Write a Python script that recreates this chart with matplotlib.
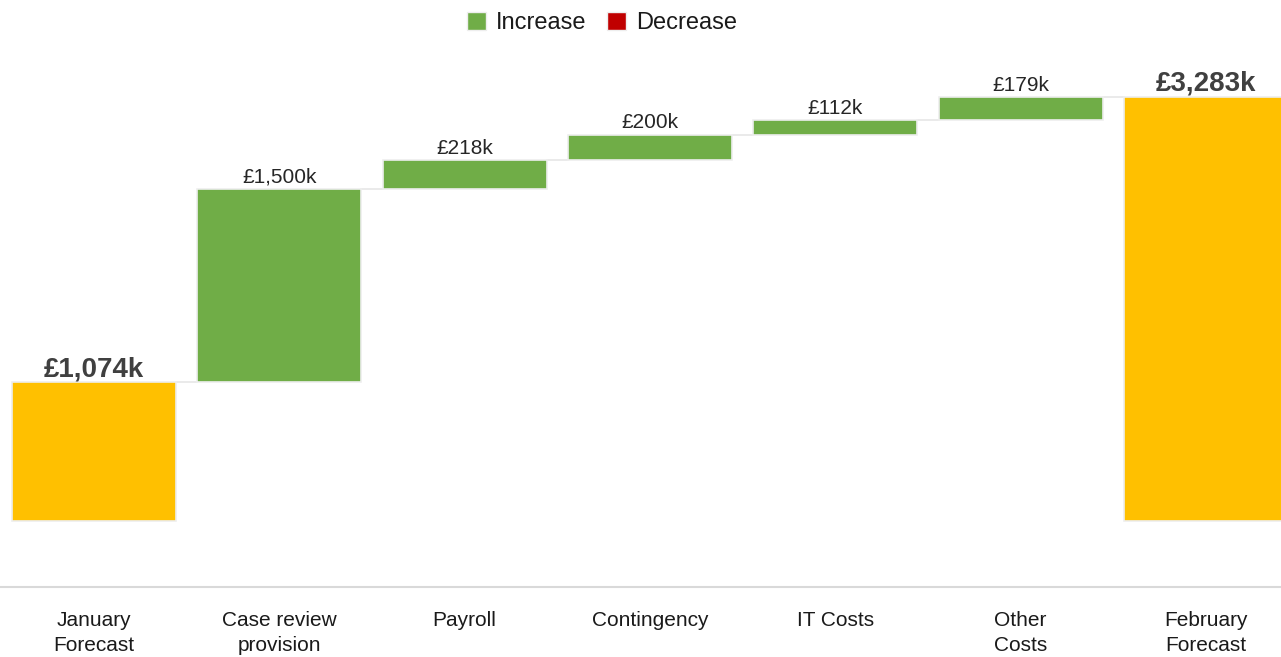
import matplotlib
matplotlib.use("Agg")
import matplotlib.pyplot as plt
from matplotlib.patches import Patch
import numpy as np

plt.rcParams['font.family'] = ['Liberation Sans', 'DejaVu Sans']

categories = ["January\nForecast", "Case review\nprovision", "Payroll", "Contingency",
              "IT Costs", "Other\nCosts", "February\nForecast"]
values = [1074, 1500, 218, 200, 112, 179, 3283]
kinds = ["total", "inc", "inc", "inc", "inc", "inc", "total"]
labels = ["£1,074k", "£1,500k", "£218k", "£200k", "£112k", "£179k", "£3,283k"]

YELLOW = "#FFC000"
GREEN = "#70AD47"
RED = "#C00000"

fig = plt.figure(figsize=(12.81, 6.57), dpi=100)
ax = fig.add_axes([0, (657 - 587) / 657, 1, (587 - 60) / 657])

x = np.arange(len(categories))
width = 0.885
bottoms = []
running = 0
for v, k in zip(values, kinds):
    if k == "total":
        bottoms.append(0)
        running = v
    elif k == "inc":
        bottoms.append(running)
        running += v
    else:
        running -= v
        bottoms.append(running)

colors = [YELLOW if k == "total" else (GREEN if k == "inc" else RED) for k in kinds]
ax.bar(x, values, width=width, bottom=bottoms, color=colors,
       edgecolor="#EEEEEE", linewidth=1.2, zorder=2)

# connectors
for i in range(len(values) - 1):
    level = bottoms[i] + values[i]
    ax.plot([x[i] + width / 2, x[i + 1] - width / 2], [level, level],
            color="#E6E6E6", linewidth=1.2, zorder=1)

for i, (v, b, k, lab) in enumerate(zip(values, bottoms, kinds, labels)):
    top = b + v
    if k == "total":
        ax.annotate(lab, (x[i], top), xytext=(0, 0), textcoords="offset points",
                    ha="center", va="bottom", fontsize=20, fontweight="bold",
                    color="#404040")
    else:
        ax.annotate(lab, (x[i], top), xytext=(0, 1.5), textcoords="offset points",
                    ha="center", va="bottom", fontsize=15, color="#262626")

ax.set_xlim(-0.507, 6.405)
ax.set_ylim(-511, 3569)
ax.set_xticks(x)
ax.set_xticklabels(categories, fontsize=15, color="#1a1a1a", linespacing=1.42)
ax.tick_params(axis='x', length=0, pad=17)
ax.set_yticks([])
for s in ["top", "left", "right"]:
    ax.spines[s].set_visible(False)
ax.spines["bottom"].set_color("#D9D9D9")
ax.spines["bottom"].set_linewidth(1.5)

handles = [Patch(facecolor=GREEN, edgecolor="#EEEEEE", label="Increase"),
           Patch(facecolor=RED, edgecolor="#EEEEEE", label="Decrease")]
fig.legend(handles=handles, loc="center", bbox_to_anchor=(602 / 1281, 1 - 23 / 657),
           ncol=2, frameon=False, fontsize=17, handlelength=0.8, handleheight=0.8,
           handletextpad=0.45, columnspacing=0.85, labelcolor="#1a1a1a")

fig.savefig("out.png", dpi=100)
